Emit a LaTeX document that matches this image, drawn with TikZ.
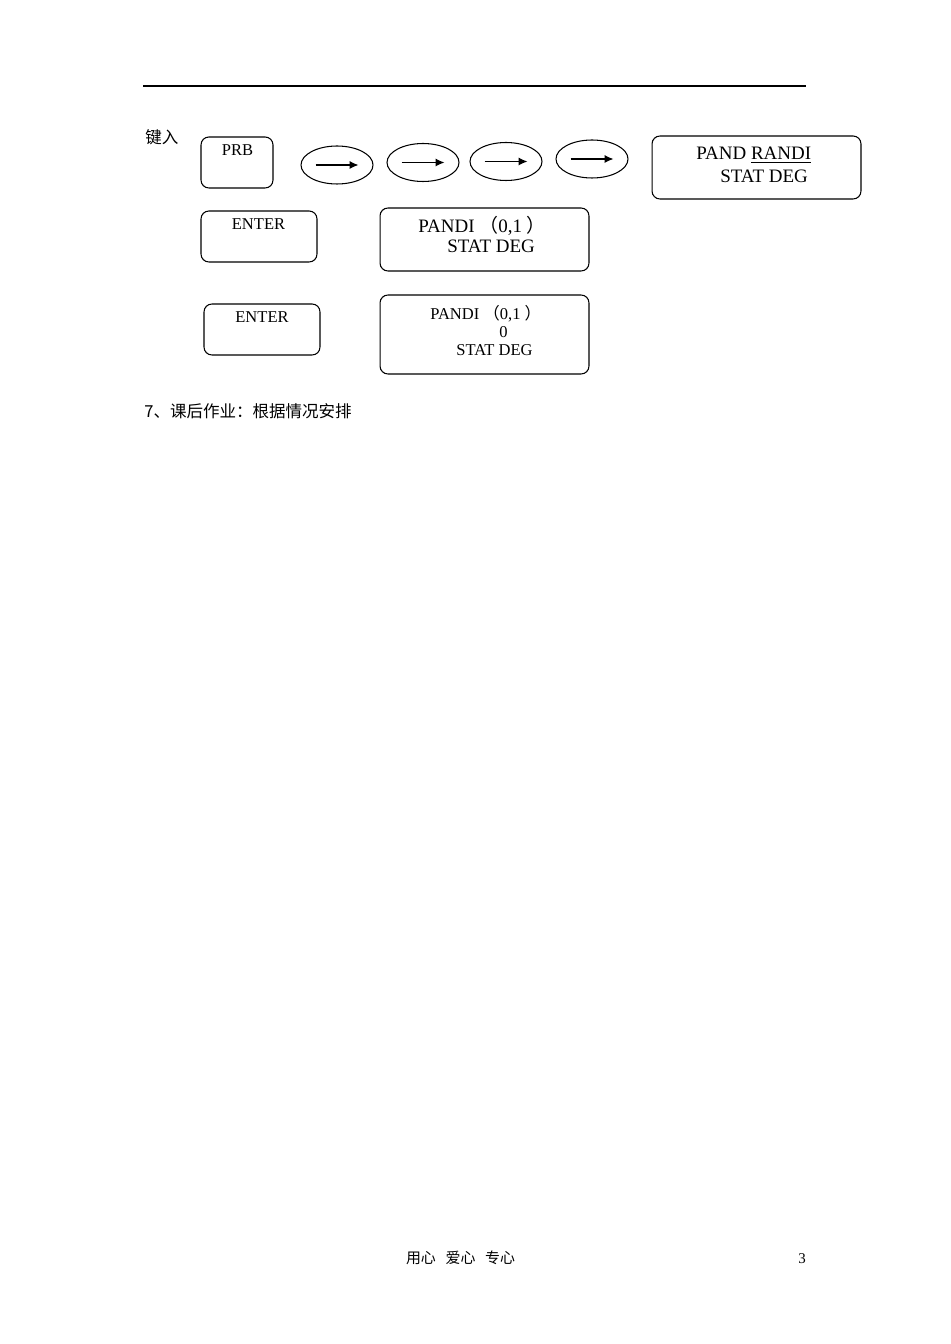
\documentclass[tikz,border=0pt]{standalone}
\usepackage{fontspec}
\setmainfont{Liberation Serif}
\newfontfamily\cjk{Noto Sans CJK SC}
\usetikzlibrary{shapes}
\usetikzlibrary{arrows.meta}
\usetikzlibrary{positioning}

\begin{document}
\begin{tikzpicture}[x=0.02cm,y=-0.02cm]
	\tikzset{keybox/.style = {shape=rectangle,draw,rounded corners=4.5pt,
			line width=0.6pt, inner sep=0pt}}
	\tikzset{keyoval/.style = {shape=ellipse,draw,line width=0.6pt,
			minimum width=1.44cm, minimum height=0.76cm, inner sep=0pt}}
	\tikzset{keyarrow/.style = {-{Latex[length=5pt,width=4.5pt]}, line width=0.7pt}}
	\tikzset{small/.style = {font=\fontsize{9.4}{11}\selectfont, inner sep=0pt}}
	\tikzset{large/.style = {font=\fontsize{10.8}{12}\selectfont, inner sep=0pt}}
	\tikzset{zh/.style = {font=\cjk\fontsize{9.4}{11}\selectfont, inner sep=0pt}}
	\useasboundingbox (0,0) rectangle (950,1344);
	
	% header rule
	\coordinate (ruleL) at (143,86);
	\coordinate (ruleR) at (806,86);
	\draw[line width=0.6pt] (ruleL) -- (ruleR);
	
	\node[zh, anchor=west] (input) at (145,137) {键入};
	
	% keys
	\node[keybox, minimum width=1.44cm, minimum height=1.02cm] (prb) at (237,162.5) {};
	\node[small, anchor=base] (prbText) at (237.5,156) {PRB};
	\node[keyoval] (k1) at (337,165) {};
	\node[keyoval] (k2) at (423,162.5) {};
	\node[keyoval] (k3) at (506,161.5) {};
	\node[keyoval] (k4) at (592,159) {};
	\node[keybox, minimum width=2.32cm, minimum height=1.02cm] (enterA) at (259,236.5) {};
	\node[small, anchor=base] (enterAText) at (258.5,230) {ENTER};
	\node[keybox, minimum width=2.32cm, minimum height=1.02cm] (enterB) at (262,329.5) {};
	\node[small, anchor=base] (enterBText) at (262,323) {ENTER};
	
	% displays
	\node[keybox, minimum width=4.18cm, minimum height=1.26cm] (dispA) at (756.5,167.5) {};
	\node[large, anchor=base west] (dispAtop) at (696,160) {PAND \underline{RANDI}};
	\node[large, anchor=base west] (dispAbot) at (720,183) {STAT DEG};
	\node[keybox, minimum width=4.18cm, minimum height=1.26cm] (dispB) at (484.5,239.5) {};
	\node[large, anchor=base west] (dispBtop) at (418,233) {PANDI {\cjk（}0,1 {\cjk）}};
	\node[large, anchor=base west] (dispBbot) at (447,253) {STAT DEG};
	\node[keybox, minimum width=4.18cm, minimum height=1.58cm] (dispC) at (484.5,334.5) {};
	\node[small, anchor=base west] (dispCtop) at (430,320) {PANDI {\cjk（}0,1 {\cjk）}};
	\node[small, anchor=base] (dispCmid) at (503.5,338) {0};
	\node[small, anchor=base west] (dispCbot) at (456,356) {STAT DEG};
	
	%arrows
	\foreach \k in {k1,k2,k3,k4}
		\draw[keyarrow] ([xshift=-0.43cm]\k.center) -- ([xshift=0.43cm]\k.center);
	
	\node[zh, anchor=west] (homework) at (144,411) {7、课后作业：根据情况安排};
	
	% footer
	\node[zh, font=\cjk\fontsize{8.5}{10}\selectfont] (footer) at (460.5,1258)
		{用心\hspace{5.5pt}爱心\hspace{5.5pt}专心};
	\node[small, font=\fontsize{8.5}{10}\selectfont] (page) at (802,1259) {3};
\end{tikzpicture}
\end{document}
